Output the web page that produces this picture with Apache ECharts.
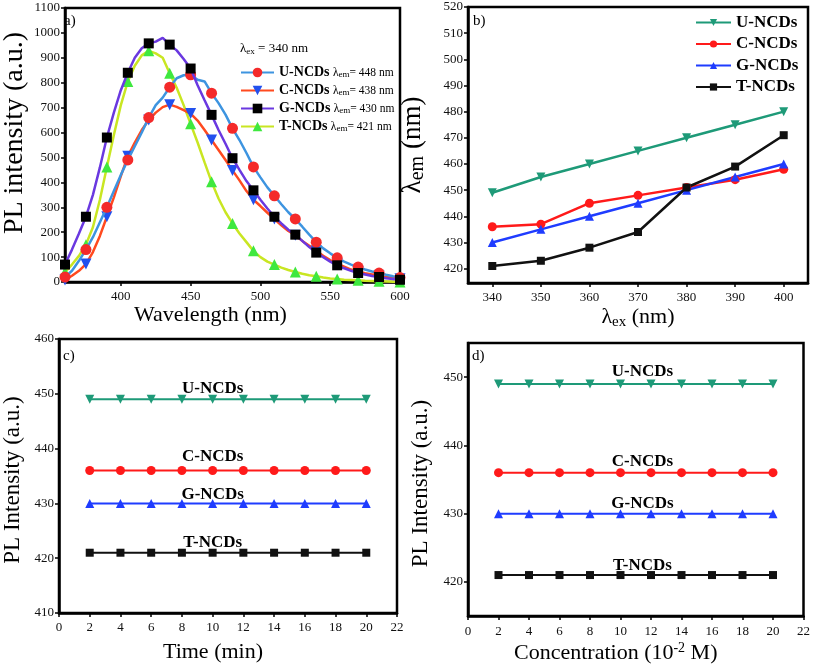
<!DOCTYPE html>
<html><head><meta charset="utf-8">
<script src="https://cdn.jsdelivr.net/npm/echarts@6/dist/echarts.min.js"></script>
<style>html,body{margin:0;padding:0;background:#fff}#c{width:813px;height:665px}</style>
</head><body><div id="c"></div>
<script>
// ---------- Panel a: PL spectra ----------
const wavelengths = [360,365,370,375,380,385,390,395,400,405,410,415,420,425,430,435,440,445,450,455,460,465,470,475,480,485,490,495,500,505,510,515,520,525,530,535,540,545,550,555,560,565,570,575,580,585,590,595,600];
const plU = [20,45,85,130,180,240,300,365,430,490,545,600,660,710,740,782,818,830,832,812,805,758,718,672,617,570,518,462,420,380,346,312,280,253,222,190,160,135,115,97,82,70,60,50,42,36,29,23,18];
const plC = [8,25,45,72,120,185,262,340,425,505,560,610,650,680,702,712,703,690,676,648,610,570,530,490,448,408,365,330,305,278,253,228,205,188,165,145,125,105,88,74,62,50,42,35,30,24,20,16,13];
const plG = [70,130,195,262,350,460,580,680,770,840,900,938,958,965,980,953,930,895,857,790,730,671,610,555,497,450,405,368,330,295,262,235,210,190,165,140,118,100,82,67,55,45,36,30,24,20,15,12,9];
const plT = [40,70,105,150,220,330,462,590,710,805,868,910,928,918,900,838,780,710,635,560,480,402,335,280,235,195,160,125,100,82,70,58,48,40,33,27,23,18,14,12,9,8,7,5,4,3,2,1,0];
const emLabelsA = ['448','438','430','421'];

// ---------- Panel b: emission vs excitation ----------
const excitation = [340,350,360,370,380,390,400];
const emU = [449,455,460,465,470,475,480];
const emC = [436,437,445,448,451,454,458];
const emG = [430,435,440,445,450,455,460];
const emT = [421,423,428,434,451,459,471];

// ---------- Panel c: vs time ----------
const timeMin = [2,4,6,8,10,12,14,16,18,20];
const timeU = [449,449,449,449,449,449,449,449,449,449];
const timeC = [436,436,436,436,436,436,436,436,436,436];
const timeG = [430,430,430,430,430,430,430,430,430,430];
const timeT = [421,421,421,421,421,421,421,421,421,421];

// ---------- Panel d: vs concentration ----------
const conc = [2,4,6,8,10,12,14,16,18,20];
const concU = [449,449,449,449,449,449,449,449,449,449];
const concC = [436,436,436,436,436,436,436,436,436,436];
const concG = [430,430,430,430,430,430,430,430,430,430];
const concT = [421,421,421,421,421,421,421,421,421,421];

const names = ['U-NCDs','C-NCDs','G-NCDs','T-NCDs'];

const FONT = "'Liberation Serif','Times New Roman',serif";
const chart = echarts.init(document.getElementById('c'), null, {renderer:'canvas'});

function pairs(xs, ys){ return xs.map((x,i)=>[x, ys[i]]); }

function axisCommon(margin){
  return {
    axisLine:{show:true, onZero:false, lineStyle:{color:'#000', width:2.5}},
    axisTick:{show:true, inside:false, length:4, lineStyle:{color:'#000', width:1.5}},
    axisLabel:{color:'#111', fontFamily:FONT, fontSize:13, margin:margin||5, formatter:(v)=>String(v)},
    splitLine:{show:false},
    nameTextStyle:{color:'#000', fontFamily:FONT}
  };
}

const grids = [
  {left:60, top:8, width:340, height:274},
  {left:468, top:7, width:340, height:276},
  {left:58, top:339, width:339, height:274},
  {left:468, top:343, width:336, height:273}
].map(g => Object.assign({show:true, borderColor:'#000', borderWidth:2.5, backgroundColor:'transparent'}, g));

const xAxes = [
  Object.assign(axisCommon(8), {gridIndex:0, type:'value', min:360, max:600, splitNumber:5,
    name:'Wavelength (nm)', nameLocation:'middle', nameGap:16,
    nameTextStyle:{color:'#000', fontFamily:FONT, fontSize:22, padding:[0,44,0,0]}}),
  Object.assign(axisCommon(8), {gridIndex:1, type:'value', min:335, max:405, splitNumber:7,
    name:'{l|λ}{s|ex}{l| (nm)}', nameLocation:'middle', nameGap:11,
    nameTextStyle:{color:'#000', fontFamily:FONT, rich:{l:{fontSize:22, fontFamily:FONT, lineHeight:26}, s:{fontSize:15, fontFamily:FONT, lineHeight:26, verticalAlign:'bottom', padding:[10,0,0,0]}}}}),
  Object.assign(axisCommon(8), {gridIndex:2, type:'value', min:0, max:22, interval:2,
    name:'Time (min)', nameLocation:'middle', nameGap:28,
    nameTextStyle:{color:'#000', fontFamily:FONT, fontSize:22, padding:[0,30,0,0]}}),
  Object.assign(axisCommon(9), {gridIndex:3, type:'value', min:0, max:22, interval:2,
    name:'Concentration (10{sup|-2} M)', nameLocation:'middle', nameGap:25,
    nameTextStyle:{color:'#000', fontFamily:FONT, fontSize:22, padding:[0,40,0,0], rich:{sup:{fontSize:14, fontFamily:FONT, verticalAlign:'top', padding:[0,0,10,0]}}}})
];
xAxes[0].axisLabel.showMinLabel = false;
xAxes[1].axisLabel.showMinLabel = false;
xAxes[1].axisLabel.showMaxLabel = false;

const yAxes = [
  Object.assign(axisCommon(), {gridIndex:0, type:'value', min:0, max:1100, interval:100,
    name:'PL intensity (a.u.)', nameLocation:'middle', nameGap:36,
    nameTextStyle:{color:'#000', fontFamily:FONT, fontSize:28, padding:[0,0,0,24]}}),
  Object.assign(axisCommon(), {gridIndex:1, type:'value', min:414.5, max:520, splitNumber:10,
    name:'{l|λ}{s|em}{l| (nm)}', nameLocation:'middle', nameGap:40,
    nameTextStyle:{color:'#000', fontFamily:FONT, rich:{l:{fontSize:27, fontFamily:FONT, lineHeight:30}, s:{fontSize:20, fontFamily:FONT, lineHeight:30, verticalAlign:'bottom', padding:[12,0,0,0]}}}}),
  Object.assign(axisCommon(), {gridIndex:2, type:'value', min:410, max:460, interval:10,
    name:'PL Intensity (a.u.)', nameLocation:'middle', nameGap:35,
    nameTextStyle:{color:'#000', fontFamily:FONT, fontSize:23, padding:[0,8,0,0]}}),
  Object.assign(axisCommon(), {gridIndex:3, type:'value', min:415, max:455, splitNumber:4,
    name:'PL Intensity (a.u.)', nameLocation:'middle', nameGap:36,
    nameTextStyle:{color:'#000', fontFamily:FONT, fontSize:23, padding:[0,8,0,0]}})
];
yAxes[1].axisLabel.showMinLabel = false;
yAxes[3].axisLabel.showMinLabel = false;
yAxes[3].axisLabel.showMaxLabel = false;

// Panel a series
const aLine = ['#3d94e0','#ff4a1f','#6a38e0','#c9e622'];
const aMark = ['#f42a2a','#2250ee','#000000','#3fe83f'];
const aSym = ['circle','triangle','rect','triangle'];
const aRot = [0,180,0,0];
const aData = [plU, plC, plG, plT];
const series = [];
const drawOrder = [3,1,0,2];
drawOrder.forEach((k, j) => {
  series.push({
    name: names[k] + ' ', type:'line', xAxisIndex:0, yAxisIndex:0,
    data: pairs(wavelengths, aData[k]),
    showAllSymbol:true, symbol:aSym[k], symbolRotate:aRot[k],
    symbolSize: (v, p) => (p.dataIndex % 3 === 0 ? (aSym[k]==='rect'?10:11) : 0),
    lineStyle:{color:aLine[k], width:2.5}, itemStyle:{color:aMark[k], borderWidth:0},
    z: 2 + j, animation:false
  });
});

// Panel b/c/d series
const bCol = ['#1e9a78','#ff1a1a','#1f3cff','#111111'];
const bSym = ['triangle','circle','triangle','rect'];
const bRot = [180,0,0,0];
const bData = [emU, emC, emG, emT];
const cData = [timeU, timeC, timeG, timeT];
const dData = [concU, concC, concG, concT];
for (let k=0;k<4;k++){
  series.push({
    name: names[k], type:'line', xAxisIndex:1, yAxisIndex:1,
    data: pairs(excitation, bData[k]), symbol:bSym[k], symbolRotate:bRot[k], symbolSize: bSym[k]==='rect'?8:9,
    lineStyle:{color:bCol[k], width:2.5}, itemStyle:{color:bCol[k]}, animation:false
  });
}
function flatSeries(xi, xs, data, k, labelOffset){
  return {
    name: names[k] + '  ', type:'line', xAxisIndex:xi, yAxisIndex:xi,
    data: xs.map((x,i)=>{
      const item = {value:[x, data[k][i]]};
      if (i === 4) item.label = {show:true, position:'top', distance:0, offset:labelOffset,
        formatter: names[k], color:'#000', fontFamily:FONT, fontWeight:'bold', fontSize:17};
      return item;
    }),
    symbol:bSym[k], symbolRotate:bRot[k], symbolSize: bSym[k]==='rect'?8:9,
    lineStyle:{color:bCol[k], width:2}, itemStyle:{color:bCol[k]}, animation:false
  };
}
const cOff = [[0,2],[0,-1],[0,4],[0,2]];
const dOff = [[22,1],[22,2],[22,3],[22,3]];
for (let k=0;k<4;k++) series.push(flatSeries(2, timeMin, cData, k, cOff[k]));
for (let k=0;k<4;k++) series.push(flatSeries(3, conc, dData, k, dOff[k]));

const option = {
  backgroundColor:'#fff',
  animation:false,
  grid: grids, xAxis: xAxes, yAxis: yAxes, series: series,
  legend: [
    { data: names.map(n=>n+' '), orient:'vertical', left:240, top:65, padding:0, itemWidth:33, itemHeight:12, itemGap:3.5,
      selectedMode:false,
      formatter: (n) => { const i = names.indexOf(n.trim()); return '{b|'+names[i]+'} {l|λ}{s|em}{l|= '+emLabelsA[i]+' nm}'; },
      textStyle:{ rich:{ b:{fontFamily:FONT, fontWeight:'bold', fontSize:14, color:'#000', lineHeight:13},
        l:{fontFamily:FONT, fontSize:11.5, color:'#000', lineHeight:13},
        s:{fontFamily:FONT, fontSize:9, color:'#000', verticalAlign:'bottom', lineHeight:13, padding:[5,0,0,0]} } } },
    { data: names, orient:'vertical', left:695, top:14, padding:0, itemWidth:35, itemHeight:9, itemGap:4.5, selectedMode:false,
      formatter: (n) => '{b|'+n+'}',
      textStyle:{ rich:{ b:{fontFamily:FONT, fontWeight:'bold', fontSize:17, color:'#000', lineHeight:16} } } }
  ],
  graphic: [
    {type:'text', left:64, top:14, style:{text:'a)', fontFamily:FONT, fontSize:15, fill:'#000'}},
    {type:'text', left:473, top:14, style:{text:'b)', fontFamily:FONT, fontSize:15, fill:'#000'}},
    {type:'text', left:63, top:349, style:{text:'c)', fontFamily:FONT, fontSize:15, fill:'#000'}},
    {type:'text', left:472, top:349, style:{text:'d)', fontFamily:FONT, fontSize:15, fill:'#000'}},
    {type:'text', left:240, top:42, style:{text:'{l|λ}{s|ex}{l| = 340 nm}', rich:{
      l:{fontFamily:FONT, fontSize:13, fill:'#000', lineHeight:16},
      s:{fontFamily:FONT, fontSize:9, fill:'#000', lineHeight:16, verticalAlign:'bottom', padding:[5,0,0,0]}}}}
  ]
};
chart.setOption(option);
</script></body></html>
